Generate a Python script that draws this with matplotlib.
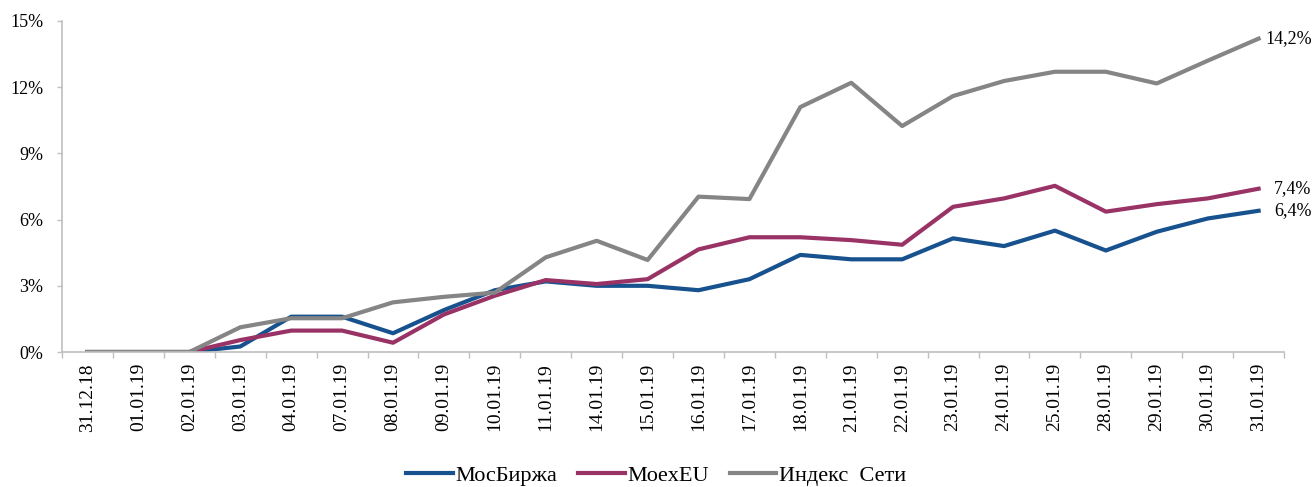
import numpy as np
import matplotlib.pyplot as plt
from matplotlib.ticker import FixedLocator

dates = ['31.12.18', '01.01.19', '02.01.19', '03.01.19', '04.01.19', '07.01.19',
         '08.01.19', '09.01.19', '10.01.19', '11.01.19', '14.01.19', '15.01.19',
         '16.01.19', '17.01.19', '18.01.19', '21.01.19', '22.01.19', '23.01.19',
         '24.01.19', '25.01.19', '28.01.19', '29.01.19', '30.01.19', '31.01.19']

mosbirzha = [0, 0, 0, 0.25, 1.6, 1.6, 0.85, 1.9, 2.8, 3.2, 3.0, 3.0,
             2.8, 3.3, 4.4, 4.2, 4.2, 5.15, 4.8, 5.5, 4.6, 5.45, 6.05, 6.4]
moexeu = [0, 0, 0, 0.54, 0.97, 0.97, 0.42, 1.7, 2.55, 3.26, 3.08, 3.3,
          4.65, 5.2, 5.2, 5.07, 4.86, 6.58, 6.96, 7.53, 6.36, 6.7, 6.96, 7.4]
seti = [0, 0, 0, 1.12, 1.53, 1.53, 2.25, 2.5, 2.69, 4.29, 5.04, 4.17,
        7.04, 6.93, 11.1, 12.2, 10.24, 11.6, 12.28, 12.7, 12.7, 12.17, 13.2, 14.2]

yticks = [0, 3, 6, 9, 12, 15]

plt.rcParams['font.family'] = ['Liberation Serif', 'DejaVu Serif']

fig = plt.figure(figsize=(13.12, 4.87), dpi=100)
ax = fig.add_axes([0.0473, 0.2772, 0.9314, 0.6797])

x = np.arange(len(dates))
lw = 3.0
ax.plot(x, mosbirzha, color='#17528F', lw=lw, label='МосБиржа')
ax.plot(x, moexeu, color='#993366', lw=lw, label='MoexEU')
ax.plot(x, seti, color='#858585', lw=lw, label='Индекс  Сети')

# подписи последних значений
for series in [seti, moexeu, mosbirzha]:
    v = series[-1]
    ax.annotate(f'{v:.1f}%'.replace('.', ','), (x[-1], v), xytext=(5 if v > 10 else 11, 0),
                textcoords='offset points', va='center', ha='left', fontsize=13,
                annotation_clip=False)

ax.set_xlim(-0.5, len(dates) - 0.5)
ax.set_ylim(0, 15)
ax.set_xticks(x)
ax.set_xticklabels(dates, rotation=90, fontsize=14)
ax.xaxis.set_minor_locator(FixedLocator(np.arange(-0.5, len(dates), 1)))
ax.tick_params(axis='x', which='major', length=0, pad=8)
ax.tick_params(axis='x', which='minor', length=4.3, color='#BFBFBF', width=1)
ax.set_yticks(yticks)
ax.set_yticklabels([f'{t}%' for t in yticks], fontsize=13)
ax.tick_params(axis='y', length=3.6, color='#BFBFBF', width=1, pad=10)

for s in ['top', 'right']:
    ax.spines[s].set_visible(False)
for s in ['left', 'bottom']:
    ax.spines[s].set_color('#BFBFBF')
    ax.spines[s].set_linewidth(1.2)

fig.legend(loc='center', bbox_to_anchor=(0.5, 0.023), ncol=3, frameon=False,
           fontsize=16, handlelength=2.1, handletextpad=0.1, columnspacing=0.95)

fig.savefig('out.png', dpi=100)
